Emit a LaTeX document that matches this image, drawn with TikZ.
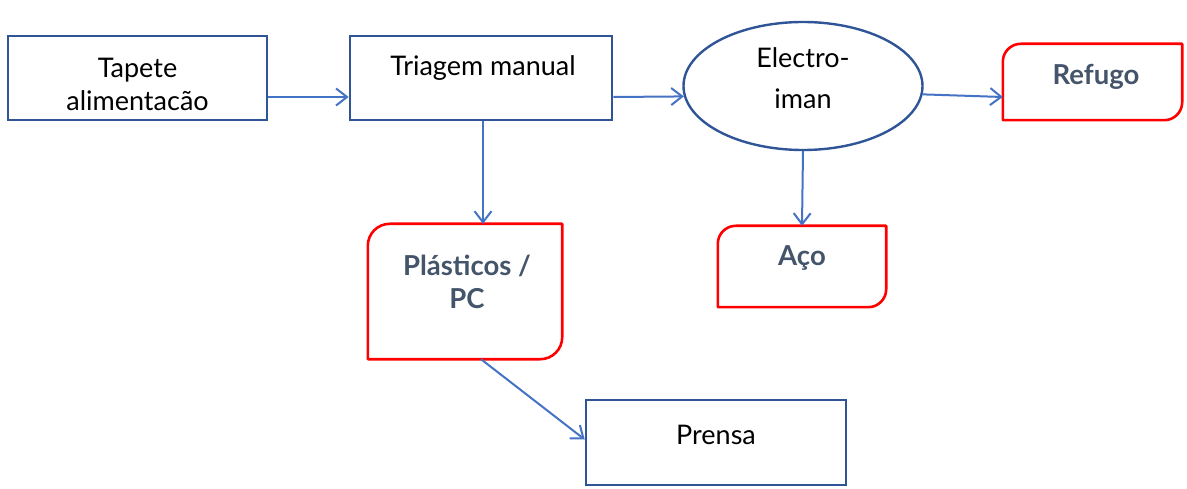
\documentclass[tikz,border=0pt]{standalone}
\usepackage{fontspec}
\setmainfont{Lato}
\usetikzlibrary{arrows.meta,shapes.geometric,calc}
\definecolor{boxblue}{HTML}{2F5597}
\definecolor{arrblue}{HTML}{4472C4}
\definecolor{slate}{HTML}{44546A}
\definecolor{redline}{HTML}{FF0000}
\tikzset{
  bluebox/.style={draw=boxblue, line width=2.6pt, fill=white, inner sep=0pt},
  redshape/.style={draw=none, inner sep=0pt},
  plain/.style={font=\fontsize{27}{33}\selectfont, text=black, align=center, inner sep=0pt},
  boldtxt/.style={font=\fontsize{27.5}{33}\selectfont\bfseries, text=slate, align=center, inner sep=0pt},
  arr/.style={draw=arrblue, line width=2pt, -{Straight Barb[length=11pt,width=17pt,line width=2pt]}},
}
\newcommand\snipround[2]{%
  \draw[redline, line width=2.6pt, line join=round]
    ([xshift=#2]#1.north west) -- (#1.north east) -- ([yshift=#2]#1.south east)
    arc[start angle=0, end angle=-90, radius=#2] -- (#1.south west)
    -- ([yshift=-#2]#1.north west) arc[start angle=180, end angle=90, radius=#2] -- cycle;}
\begin{document}
\begin{tikzpicture}[x=1pt,y=1pt]
\useasboundingbox (0,0) rectangle (1187,488);
% boxes
\node[bluebox, minimum width=259pt, minimum height=84pt] (tap) at (137.5,410) {};
\node[bluebox, minimum width=262pt, minimum height=84pt] (tri) at (481,410) {};
\node[ellipse, draw=boxblue, line width=2.4pt, inner sep=0pt, minimum width=239pt, minimum height=128pt] (ele) at (803,402) {};
\node[redshape, minimum width=179pt, minimum height=76pt] (ref) at (1092.5,406) {};
\snipround{ref}{18pt}
\node[redshape, minimum width=168pt, minimum height=81pt] (aco) at (802,221.5) {};
\snipround{aco}{18pt}
\node[redshape, minimum width=194pt, minimum height=135pt] (pla) at (465,196.5) {};
\snipround{pla}{22pt}
\node[bluebox, minimum width=260pt, minimum height=85pt] (pre) at (716,45.5) {};
% texts
\node[plain] (tap-t) at (137.5,403.5) {Tapete\\alimentacão};
\node[plain] (tri-t) at (483,420) {Triagem manual};
\node[plain, font=\fontsize{27}{41}\selectfont] (ele-t) at (803,410) {Electro-\\iman};
\node[boldtxt] (ref-t) at (1096,411) {Refugo};
\node[boldtxt] (aco-t) at (802,230) {Aço};
\node[boldtxt] (pla-t) at (467,206.5) {Plásticos /\\PC};
\node[plain] (pre-t) at (716,53) {Prensa};
% connectors
\draw[arr] ([yshift=-19pt]tap.east) -- ([yshift=-19pt]tri.west);
\draw[arr] ([yshift=-19pt]tri.east) -- (ele.185);
\draw[arr] (ele.-4) -- ([yshift=-15pt]ref.west);
\draw[arr] ([xshift=2pt]tri.south) -- ([xshift=18pt]pla.north);
\draw[arr] (ele.south) -- (aco.north);
\draw[arr] ([xshift=16pt]pla.south) -- ([yshift=3pt]pre.west);
\end{tikzpicture}
\end{document}
